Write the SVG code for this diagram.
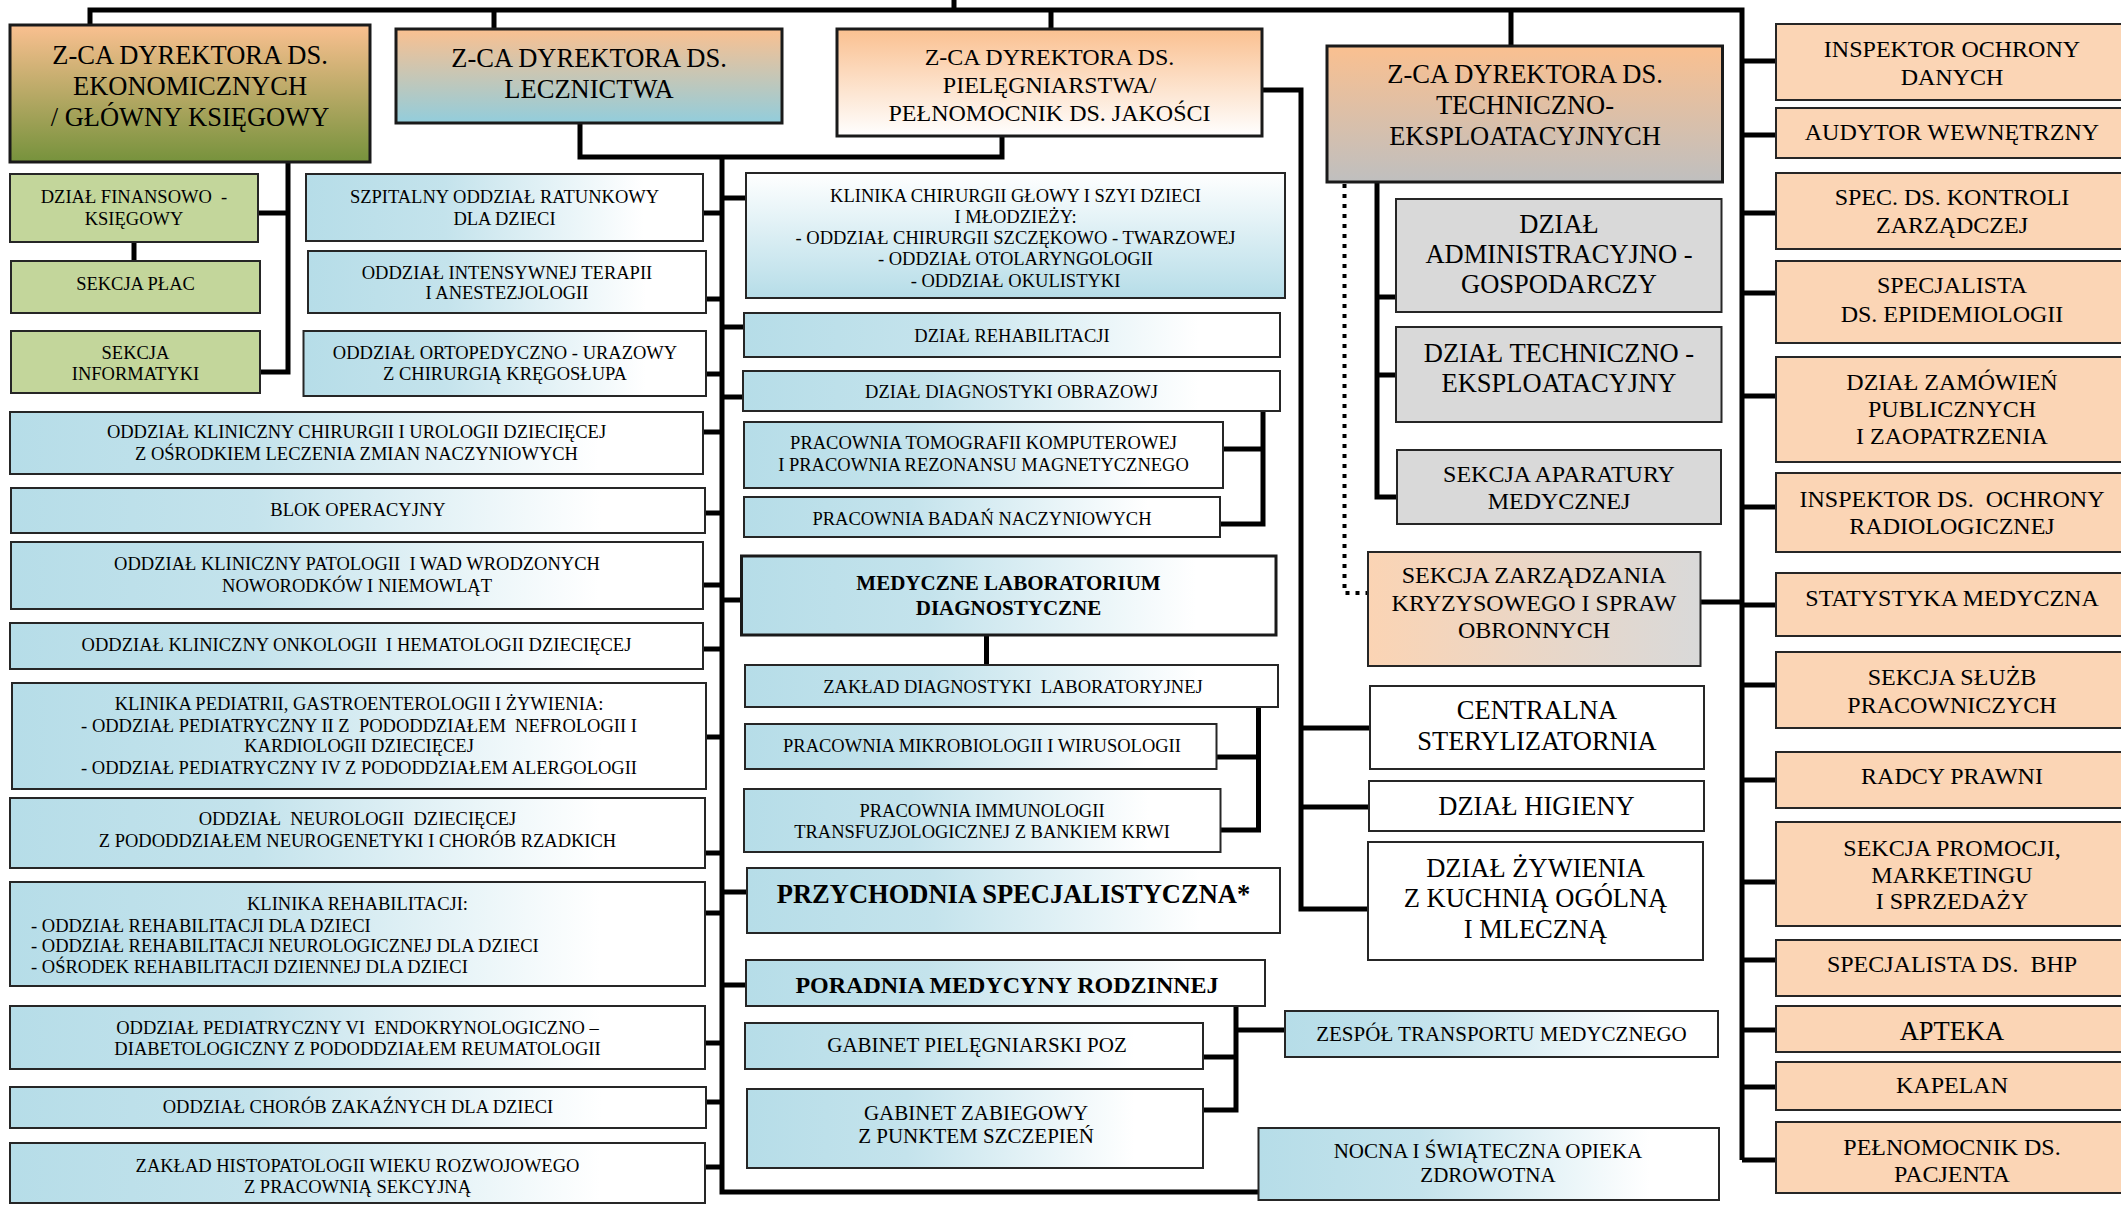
<svg xmlns="http://www.w3.org/2000/svg" width="2121" height="1205" viewBox="0 0 2121 1205">
<defs>
<linearGradient id="gEkon" x1="0" y1="0" x2="0" y2="1"><stop offset="0" stop-color="#FAC090"/><stop offset="1" stop-color="#76923C"/></linearGradient>
<linearGradient id="gLeczn" x1="0" y1="0" x2="0" y2="1"><stop offset="0" stop-color="#FAC090"/><stop offset="1" stop-color="#92CDDC"/></linearGradient>
<linearGradient id="gPieleg" x1="0" y1="0" x2="0" y2="1"><stop offset="0" stop-color="#FAC090"/><stop offset="1" stop-color="#FFFFFF"/></linearGradient>
<linearGradient id="gTech" x1="0" y1="0" x2="0" y2="1"><stop offset="0" stop-color="#FAC090"/><stop offset="1" stop-color="#BFBFBF"/></linearGradient>
<linearGradient id="gBlueH" x1="0" y1="0" x2="1" y2="0"><stop offset="0" stop-color="#B6DDE8"/><stop offset="0.35" stop-color="#C4E3EC"/><stop offset="0.85" stop-color="#FFFFFF"/></linearGradient>
<linearGradient id="gBlueV" x1="0" y1="0" x2="0" y2="1"><stop offset="0" stop-color="#FFFFFF"/><stop offset="1" stop-color="#B6DDE8"/></linearGradient>
<linearGradient id="gZarz" x1="0" y1="0" x2="1" y2="0"><stop offset="0" stop-color="#FBD4B4"/><stop offset="1" stop-color="#D9D9D9"/></linearGradient>
</defs>
<style>
.bx{stroke:#262626;stroke-width:2}
.hd{stroke:#1a1a1a;stroke-width:3}
.bl{fill:url(#gBlueH)}
.gr{fill:#C3D69B}
.gy{fill:#D9D9D9}
.pc{fill:#FBD5B5}
.wh{fill:#FFFFFF}
text{font-family:"Liberation Serif","Times New Roman",serif;fill:#000;text-anchor:middle;white-space:pre}
.s{font-size:18.5px}
.m{font-size:21px}
.l{font-size:24px}
.xl{font-size:26.5px}
.b{font-weight:bold}
.st{text-anchor:start}
.c{fill:none;stroke:#000;stroke-width:5}
.d{fill:none;stroke:#000;stroke-width:4;stroke-dasharray:4 6}
</style>
<rect width="2121" height="1205" fill="#FFFFFF"/>
<g id="connectors">
<path class="c" d="M954 0V10M90 25V10H1742V1160M494 10V29M1051 10V29M1511 10V46"/>
<path class="c" d="M1742 61H1776M1742 135H1776M1742 213H1776M1742 293H1776M1742 396H1776M1742 507H1776M1742 605H1776M1742 685H1776M1742 780H1776M1742 882H1776M1742 960H1776M1742 1030H1776M1742 1087H1776M1742 1160H1776M1700 602H1742"/>
<path class="c" d="M1377 182V497H1397M1377 297H1396M1377 375H1396"/>
<path class="d" d="M1344.5 184V593H1368"/>
<path class="c" d="M1262 90H1301V909H1368M1301 728H1370M1301 807H1369"/>
<path class="c" d="M580 123V157H1002V136M722 157V1192H1258"/>
<path class="c" d="M703 213H722M706 299H722M706 374H722M703 432H722M705 513H722M703 585H722M703 649H722M706 737H722M705 853H722M705 913H722M705 1043H722M706 1102H722M705 1167H722"/>
<path class="c" d="M722 198H746M722 327H744M722 397H743M722 600H742M722 892H747M722 985H746"/>
<path class="c" d="M1263 411V524H1220M1223 449H1263M986.5 635V665M1258.5 707V830H1220M1216 757H1258.5M1236 1006V1110H1203M1203 1057H1236M1236 1030H1285"/>
<path class="c" d="M288 158V372H260M258 213H288M134 242V261"/>
</g>
<g id="ekon"><rect class="hd" x="10" y="25" width="360" height="137" fill="url(#gEkon)"/><text class="xl"><tspan x="190" y="64">Z-CA DYREKTORA DS.</tspan><tspan x="190" y="95">EKONOMICZNYCH</tspan><tspan x="190" y="126">/ GŁÓWNY KSIĘGOWY</tspan></text></g>
<g id="finans"><rect class="bx gr" x="10" y="174" width="248" height="68"/><text class="s"><tspan x="134" y="203">DZIAŁ FINANSOWO  -</tspan><tspan x="134" y="225">KSIĘGOWY</tspan></text></g>
<g id="place"><rect class="bx gr" x="11" y="261" width="249" height="52"/><text class="s" x="135.5" y="290">SEKCJA PŁAC</text></g>
<g id="informatyki"><rect class="bx gr" x="11" y="331" width="249" height="62"/><text class="s"><tspan x="135.5" y="359">SEKCJA</tspan><tspan x="135.5" y="380">INFORMATYKI</tspan></text></g>
<g id="leczn"><rect class="hd" x="396" y="29" width="386" height="94" fill="url(#gLeczn)"/><text class="xl"><tspan x="589" y="67">Z-CA DYREKTORA DS.</tspan><tspan x="589" y="98">LECZNICTWA</tspan></text></g>
<g id="sor"><rect class="bx bl" x="306" y="174" width="397" height="67"/><text class="s"><tspan x="504.5" y="203">SZPITALNY ODDZIAŁ RATUNKOWY</tspan><tspan x="504.5" y="225">DLA DZIECI</tspan></text></g>
<g id="oiom"><rect class="bx bl" x="308" y="251" width="398" height="62"/><text class="s"><tspan x="507" y="279">ODDZIAŁ INTENSYWNEJ TERAPII</tspan><tspan x="507" y="299">I ANESTEZJOLOGII</tspan></text></g>
<g id="orto"><rect class="bx bl" x="303.5" y="331" width="402.5" height="65"/><text class="s"><tspan x="505" y="359">ODDZIAŁ ORTOPEDYCZNO - URAZOWY</tspan><tspan x="505" y="380">Z CHIRURGIĄ KRĘGOSŁUPA</tspan></text></g>
<g id="chirurgia"><rect class="bx bl" x="10" y="412" width="693" height="62"/><text class="s"><tspan x="356.5" y="438">ODDZIAŁ KLINICZNY CHIRURGII I UROLOGII DZIECIĘCEJ</tspan><tspan x="356.5" y="460">Z OŚRODKIEM LECZENIA ZMIAN NACZYNIOWYCH</tspan></text></g>
<g id="blok"><rect class="bx bl" x="11" y="488" width="694" height="45"/><text class="s" x="358" y="516">BLOK OPERACYJNY</text></g>
<g id="patologia"><rect class="bx bl" x="11" y="542" width="692" height="67"/><text class="s"><tspan x="357" y="570">ODDZIAŁ KLINICZNY PATOLOGII  I WAD WRODZONYCH</tspan><tspan x="357" y="592">NOWORODKÓW I NIEMOWLĄT</tspan></text></g>
<g id="onkologia"><rect class="bx bl" x="10" y="623" width="693" height="46"/><text class="s" x="356.5" y="651">ODDZIAŁ KLINICZNY ONKOLOGII  I HEMATOLOGII DZIECIĘCEJ</text></g>
<g id="pediatria"><rect class="bx bl" x="12" y="683" width="694" height="106"/><text class="s"><tspan x="359" y="710">KLINIKA PEDIATRII, GASTROENTEROLOGII I ŻYWIENIA:</tspan><tspan x="359" y="732">- ODDZIAŁ PEDIATRYCZNY II Z  PODODDZIAŁEM  NEFROLOGII I</tspan><tspan x="359" y="752">KARDIOLOGII DZIECIĘCEJ</tspan><tspan x="359" y="774">- ODDZIAŁ PEDIATRYCZNY IV Z PODODDZIAŁEM ALERGOLOGII</tspan></text></g>
<g id="neurologia"><rect class="bx bl" x="10" y="798" width="695" height="70"/><text class="s"><tspan x="357.5" y="825">ODDZIAŁ  NEUROLOGII  DZIECIĘCEJ</tspan><tspan x="357.5" y="847">Z PODODDZIAŁEM NEUROGENETYKI I CHORÓB RZADKICH</tspan></text></g>
<g id="rehabilitacja"><rect class="bx bl" x="10" y="882" width="695" height="104"/><text class="s" x="357.5" y="910">KLINIKA REHABILITACJI:</text><text class="s st"><tspan x="31" y="932">- ODDZIAŁ REHABILITACJI DLA DZIECI</tspan><tspan x="31" y="952">- ODDZIAŁ REHABILITACJI NEUROLOGICZNEJ DLA DZIECI</tspan><tspan x="31" y="973">- OŚRODEK REHABILITACJI DZIENNEJ DLA DZIECI</tspan></text></g>
<g id="pediatria6"><rect class="bx bl" x="10" y="1006" width="695" height="63"/><text class="s"><tspan x="357.5" y="1034">ODDZIAŁ PEDIATRYCZNY VI  ENDOKRYNOLOGICZNO –</tspan><tspan x="357.5" y="1055">DIABETOLOGICZNY Z PODODDZIAŁEM REUMATOLOGII</tspan></text></g>
<g id="zakazne"><rect class="bx bl" x="10" y="1087" width="696" height="41"/><text class="s" x="358" y="1113">ODDZIAŁ CHORÓB ZAKAŹNYCH DLA DZIECI</text></g>
<g id="histopatologia"><rect class="bx bl" x="10" y="1143" width="695" height="60"/><text class="s"><tspan x="357.5" y="1172">ZAKŁAD HISTOPATOLOGII WIEKU ROZWOJOWEGO</tspan><tspan x="357.5" y="1193">Z PRACOWNIĄ SEKCYJNĄ</tspan></text></g>
<g id="pieleg"><rect class="hd" x="837" y="29" width="425" height="107" fill="url(#gPieleg)"/><text class="l"><tspan x="1049.5" y="65">Z-CA DYREKTORA DS.</tspan><tspan x="1049.5" y="93">PIELĘGNIARSTWA/</tspan><tspan x="1049.5" y="121">PEŁNOMOCNIK DS. JAKOŚCI</tspan></text></g>
<g id="glowa"><rect class="bx" x="746" y="173" width="539" height="125" fill="url(#gBlueV)"/><text class="s"><tspan x="1015.5" y="201.5">KLINIKA CHIRURGII GŁOWY I SZYI DZIECI</tspan><tspan x="1015.5" y="222.8">I MŁODZIEŻY:</tspan><tspan x="1015.5" y="244.1">- ODDZIAŁ CHIRURGII SZCZĘKOWO - TWARZOWEJ</tspan><tspan x="1015.5" y="265.4">- ODDZIAŁ OTOLARYNGOLOGII</tspan><tspan x="1015.5" y="286.7">- ODDZIAŁ OKULISTYKI</tspan></text></g>
<g id="dzRehab"><rect class="bx bl" x="744" y="313" width="536" height="44"/><text class="s" x="1012" y="342">DZIAŁ REHABILITACJI</text></g>
<g id="diagObr"><rect class="bx bl" x="743" y="371" width="537" height="40"/><text class="s" x="1011.5" y="398">DZIAŁ DIAGNOSTYKI OBRAZOWJ</text></g>
<g id="tomografia"><rect class="bx bl" x="744" y="422" width="479" height="66"/><text class="s"><tspan x="983.5" y="449">PRACOWNIA TOMOGRAFII KOMPUTEROWEJ</tspan><tspan x="983.5" y="471">I PRACOWNIA REZONANSU MAGNETYCZNEGO</tspan></text></g>
<g id="naczyniowe"><rect class="bx bl" x="744" y="497" width="476" height="40"/><text class="s" x="982" y="525">PRACOWNIA BADAŃ NACZYNIOWYCH</text></g>
<g id="medLab"><rect class="hd bl" x="741.5" y="556" width="534.5" height="79"/><text class="m b"><tspan x="1008.5" y="590">MEDYCZNE LABORATORIUM</tspan><tspan x="1008.5" y="615">DIAGNOSTYCZNE</tspan></text></g>
<g id="zakladLab"><rect class="bx bl" x="745" y="665" width="533" height="42"/><text class="s" x="1013" y="693">ZAKŁAD DIAGNOSTYKI  LABORATORYJNEJ</text></g>
<g id="mikrobiologia"><rect class="bx bl" x="745" y="724" width="471.5" height="45"/><text class="s" x="982" y="752">PRACOWNIA MIKROBIOLOGII I WIRUSOLOGII</text></g>
<g id="immunologia"><rect class="bx bl" x="744" y="789" width="476.5" height="63"/><text class="s"><tspan x="982" y="817">PRACOWNIA IMMUNOLOGII</tspan><tspan x="982" y="838">TRANSFUZJOLOGICZNEJ Z BANKIEM KRWI</tspan></text></g>
<g id="przychodnia"><rect class="bx bl" x="747" y="868" width="533" height="65"/><text class="xl b" x="1013.5" y="903">PRZYCHODNIA SPECJALISTYCZNA*</text></g>
<g id="poradnia"><rect class="bx bl" x="746" y="960" width="519" height="46"/><text class="l b" x="1007" y="993">PORADNIA MEDYCYNY RODZINNEJ</text></g>
<g id="gabPiel"><rect class="bx bl" x="745" y="1023" width="458" height="46"/><text class="m" x="977" y="1052">GABINET PIELĘGNIARSKI POZ</text></g>
<g id="gabZab"><rect class="bx bl" x="747" y="1089" width="456" height="79"/><text class="m"><tspan x="976" y="1120">GABINET ZABIEGOWY</tspan><tspan x="976" y="1143">Z PUNKTEM SZCZEPIEŃ</tspan></text></g>
<g id="transport"><rect class="bx bl" x="1285" y="1011" width="433" height="46"/><text class="m" x="1501.5" y="1041">ZESPÓŁ TRANSPORTU MEDYCZNEGO</text></g>
<g id="nocna"><rect class="bx bl" x="1258.5" y="1128" width="460.5" height="72"/><text class="m"><tspan x="1488" y="1158">NOCNA I ŚWIĄTECZNA OPIEKA</tspan><tspan x="1488" y="1182">ZDROWOTNA</tspan></text></g>
<g id="sterylizatornia"><rect class="bx wh" x="1370" y="686" width="334" height="83"/><text class="xl"><tspan x="1537" y="719">CENTRALNA</tspan><tspan x="1537" y="750">STERYLIZATORNIA</tspan></text></g>
<g id="higiena"><rect class="bx wh" x="1369" y="781" width="335" height="50"/><text class="xl" x="1536.5" y="815">DZIAŁ HIGIENY</text></g>
<g id="zywienie"><rect class="bx wh" x="1368" y="842" width="335" height="118"/><text class="xl"><tspan x="1535.5" y="877">DZIAŁ ŻYWIENIA</tspan><tspan x="1535.5" y="907">Z KUCHNIĄ OGÓLNĄ</tspan><tspan x="1535.5" y="938">I MLECZNĄ</tspan></text></g>
<g id="tech"><rect class="hd" x="1327" y="46" width="395.5" height="136" fill="url(#gTech)"/><text class="xl"><tspan x="1525" y="83">Z-CA DYREKTORA DS.</tspan><tspan x="1525" y="114">TECHNICZNO-</tspan><tspan x="1525" y="145">EKSPLOATACYJNYCH</tspan></text></g>
<g id="admin"><rect class="bx gy" x="1396" y="199" width="325.5" height="113"/><text class="xl"><tspan x="1559" y="233">DZIAŁ</tspan><tspan x="1559" y="263">ADMINISTRACYJNO -</tspan><tspan x="1559" y="293">GOSPODARCZY</tspan></text></g>
<g id="techEks"><rect class="bx gy" x="1396" y="327" width="325.5" height="95"/><text class="xl"><tspan x="1559" y="362">DZIAŁ TECHNICZNO -</tspan><tspan x="1559" y="392">EKSPLOATACYJNY</tspan></text></g>
<g id="aparatura"><rect class="bx gy" x="1397" y="450" width="324" height="74"/><text class="l"><tspan x="1559" y="482">SEKCJA APARATURY</tspan><tspan x="1559" y="509">MEDYCZNEJ</tspan></text></g>
<g id="kryzys"><rect class="bx" x="1368" y="552" width="332.5" height="114" fill="url(#gZarz)"/><text class="l"><tspan x="1534" y="583">SEKCJA ZARZĄDZANIA</tspan><tspan x="1534" y="611">KRYZYSOWEGO I SPRAW</tspan><tspan x="1534" y="638">OBRONNYCH</tspan></text></g>
<g id="iod"><rect class="bx pc" x="1776" y="24" width="352" height="76"/><text class="l"><tspan x="1952" y="57">INSPEKTOR OCHRONY</tspan><tspan x="1952" y="85">DANYCH</tspan></text></g>
<g id="audytor"><rect class="bx pc" x="1776" y="108" width="352" height="50"/><text class="l" x="1952" y="140">AUDYTOR WEWNĘTRZNY</text></g>
<g id="kontrola"><rect class="bx pc" x="1776" y="173" width="352" height="76"/><text class="l"><tspan x="1952" y="205">SPEC. DS. KONTROLI</tspan><tspan x="1952" y="233">ZARZĄDCZEJ</tspan></text></g>
<g id="epidemiologia"><rect class="bx pc" x="1776" y="261" width="352" height="82"/><text class="l"><tspan x="1952" y="293">SPECJALISTA</tspan><tspan x="1952" y="322">DS. EPIDEMIOLOGII</tspan></text></g>
<g id="zamowienia"><rect class="bx pc" x="1776" y="357" width="352" height="105"/><text class="l"><tspan x="1952" y="390">DZIAŁ ZAMÓWIEŃ</tspan><tspan x="1952" y="417">PUBLICZNYCH</tspan><tspan x="1952" y="444">I ZAOPATRZENIA</tspan></text></g>
<g id="radiologia"><rect class="bx pc" x="1776" y="473" width="352" height="79"/><text class="l"><tspan x="1952" y="507">INSPEKTOR DS.  OCHRONY</tspan><tspan x="1952" y="534">RADIOLOGICZNEJ</tspan></text></g>
<g id="statystyka"><rect class="bx pc" x="1776" y="573" width="352" height="63"/><text class="l" x="1952" y="606">STATYSTYKA MEDYCZNA</text></g>
<g id="kadry"><rect class="bx pc" x="1776" y="652" width="352" height="76"/><text class="l"><tspan x="1952" y="685">SEKCJA SŁUŻB</tspan><tspan x="1952" y="713">PRACOWNICZYCH</tspan></text></g>
<g id="radcy"><rect class="bx pc" x="1776" y="752" width="352" height="56"/><text class="l" x="1952" y="784">RADCY PRAWNI</text></g>
<g id="promocja"><rect class="bx pc" x="1776" y="822" width="352" height="104"/><text class="l"><tspan x="1952" y="856">SEKCJA PROMOCJI,</tspan><tspan x="1952" y="883">MARKETINGU</tspan><tspan x="1952" y="909">I SPRZEDAŻY</tspan></text></g>
<g id="bhp"><rect class="bx pc" x="1776" y="940" width="352" height="56"/><text class="l" x="1952" y="972">SPECJALISTA DS.  BHP</text></g>
<g id="apteka"><rect class="bx pc" x="1776" y="1006" width="352" height="46"/><text class="xl" x="1952" y="1040">APTEKA</text></g>
<g id="kapelan"><rect class="bx pc" x="1776" y="1062" width="352" height="48"/><text class="l" x="1952" y="1093">KAPELAN</text></g>
<g id="rzecznik"><rect class="bx pc" x="1776" y="1122" width="352" height="71"/><text class="l"><tspan x="1952" y="1155">PEŁNOMOCNIK DS.</tspan><tspan x="1952" y="1182">PACJENTA</tspan></text></g>
</svg>
